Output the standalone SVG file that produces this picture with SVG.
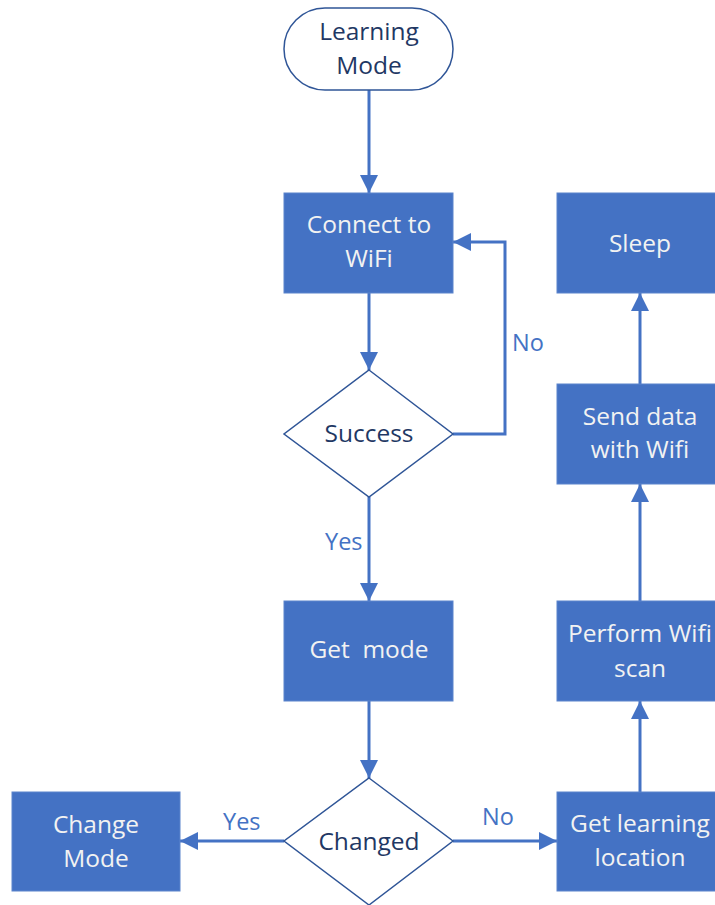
<svg xmlns="http://www.w3.org/2000/svg" width="715" height="905" viewBox="0 0 715 905">
<defs>
<marker id="ah" markerUnits="userSpaceOnUse" markerWidth="18" markerHeight="18" refX="18" refY="9" orient="auto">
<path d="M0,0 L18,9 L0,18 z" fill="#4472C4"/>
</marker>
<style>
.box{fill:#4472C4;stroke:#5B84CC;stroke-width:1}
.out{fill:#fff;stroke:#2F5597;stroke-width:1.5}
.t{font-family:"Open Sans","Noto Sans",sans-serif;font-size:24.5px;text-anchor:middle}
.w{fill:#F2F2F2}
.d{fill:#1F3864}
.lbl{font-family:"Open Sans","Noto Sans",sans-serif;font-size:23.5px;fill:#4472C4}
.c{fill:none;stroke:#4472C4;stroke-width:3;marker-end:url(#ah)}
</style>
</defs>
<rect width="715" height="905" fill="#fff"/>
<g id="connectors">
<line class="c" x1="369" y1="90" x2="369" y2="193"/>
<line class="c" x1="369" y1="293" x2="369" y2="370"/>
<polyline class="c" points="453,434 505,434 505,242 453,242"/>
<line class="c" x1="369" y1="497" x2="369" y2="601"/>
<line class="c" x1="369" y1="701" x2="369" y2="778"/>
<line class="c" x1="284" y1="841" x2="180" y2="841"/>
<line class="c" x1="453" y1="841" x2="557" y2="841"/>
<line class="c" x1="640" y1="792" x2="640" y2="701"/>
<line class="c" x1="640" y1="601" x2="640" y2="484"/>
<line class="c" x1="640" y1="384" x2="640" y2="293"/>
<text class="lbl" x="512" y="351">No</text>
<text class="lbl" x="325" y="550">Yes</text>
<text class="lbl" x="223" y="830">Yes</text>
<text class="lbl" x="482" y="825">No</text>
</g>
<g id="learning-mode">
<rect class="out" x="284" y="8" width="169" height="82" rx="41" ry="41"/>
<text class="t d" x="369" y="40">Learning</text>
<text class="t d" x="369" y="74">Mode</text>
</g>
<g id="connect-wifi">
<rect class="box" x="284" y="193" width="169" height="100"/>
<text class="t w" x="369" y="233">Connect to</text>
<text class="t w" x="369" y="267">WiFi</text>
</g>
<g id="success">
<polygon class="out" points="369,370 453,434 369,497 284,434"/>
<text class="t d" x="369" y="442">Success</text>
</g>
<g id="get-mode">
<rect class="box" x="284" y="601" width="169" height="100"/>
<text class="t w" x="369" y="658" xml:space="preserve">Get  mode</text>
</g>
<g id="changed">
<polygon class="out" points="369,778 453,841 369,905 284,841"/>
<text class="t d" x="369" y="850">Changed</text>
</g>
<g id="change-mode">
<rect class="box" x="12" y="792" width="168" height="99"/>
<text class="t w" x="96" y="833">Change</text>
<text class="t w" x="96" y="867">Mode</text>
</g>
<g id="get-learning-location">
<rect class="box" x="557" y="792" width="168" height="99"/>
<text class="t w" x="640" y="832">Get learning</text>
<text class="t w" x="640" y="866">location</text>
</g>
<g id="perform-wifi-scan">
<rect class="box" x="557" y="601" width="168" height="100"/>
<text class="t w" x="640" y="642">Perform Wifi</text>
<text class="t w" x="640" y="677">scan</text>
</g>
<g id="send-data">
<rect class="box" x="557" y="384" width="168" height="100"/>
<text class="t w" x="640" y="425">Send data</text>
<text class="t w" x="640" y="458">with Wifi</text>
</g>
<g id="sleep">
<rect class="box" x="557" y="193" width="168" height="100"/>
<text class="t w" x="640" y="252">Sleep</text>
</g>
</svg>
